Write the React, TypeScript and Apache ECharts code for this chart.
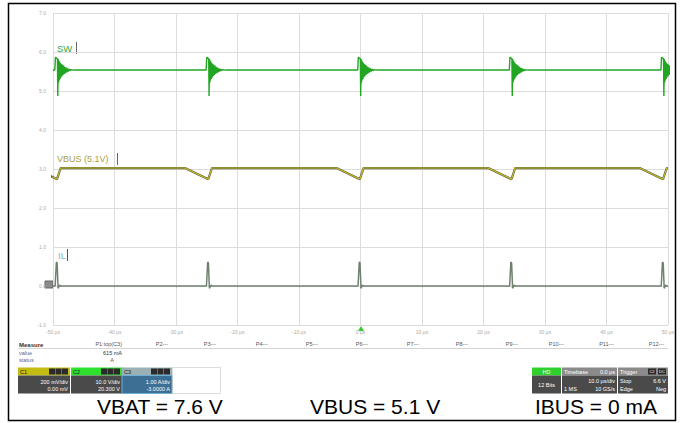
import React, { useEffect, useRef } from "react";
import * as echarts from "echarts";

// Time base: 10 µs/div, 10 divisions centred on the trigger
const timeMin = -50;
const timeMax = 50;
const timeStep = 10;

// Switching bursts (µs) seen on the SW node
const burstTimes = [-49.25, -24.65, 0, 24.65, 49.3];

// C2 – SW node (V), 10 V/div, offset 20.3 V
const swIdle = 5.1;
const swBurst: [number, number][] = [
  [-0.45, 5.1], [-0.35, 8.4], [-0.2, 8.1], [-0.03, 8.0], [0.03, -1.6],
  [0.09, 7.9], [0.15, 1.8], [0.21, 7.5], [0.27, 2.4], [0.33, 7.2],
  [0.4, 2.8], [0.47, 6.9], [0.54, 3.2], [0.62, 6.6], [0.7, 3.5],
  [0.79, 6.4], [0.88, 3.8], [0.97, 6.2], [1.07, 4.1], [1.17, 5.9],
  [1.27, 4.3], [1.38, 5.7], [1.49, 4.5], [1.61, 5.5], [1.73, 4.7],
  [1.87, 5.35], [2.02, 4.9], [2.2, 5.2], [2.45, 5.05], [2.8, 5.1],
];

// C1 – VBUS ripple (mV, AC coupled), 200 mV/div
const vbusIdle = 5;
const vbusBurst: [number, number][] = [
  [-3.9, 5], [-0.1, -52], [0.5, 5],
];

// C3 – inductor current (A), 1 A/div, offset -3 A
const ilIdle = 0;
const ilBurst: [number, number][] = [
  [-0.4, 0], [-0.2, 0.615], [-0.08, 0.59], [0.08, -0.06], [0.3, 0.02], [0.5, 0],
];

// Channel vertical windows (8 divisions)
const swRange: [number, number] = [-60.3, 19.7];
const vbusRange: [number, number] = [-800, 800];
const ilRange: [number, number] = [-1, 7];

const measureHeads = ["P1:top(C3)", "P2---", "P3---", "P4---", "P5---", "P6---", "P7---", "P8---", "P9---", "P10---", "P11---", "P12---"];
const measureValue = "615 mA";
const captions = ["VBAT = 7.6 V", "VBUS = 5.1 V", "IBUS = 0 mA"];

const FONT = "'Liberation Sans', Arial, sans-serif";

function trace(shape: [number, number][], idle: number, times: number[]) {
  const pts: [number, number][] = [];
  for (const t of times) for (const [dt, v] of shape) pts.push([+(t + dt).toFixed(3), v]);
  if (pts[0][0] > timeMin) pts.unshift([timeMin, idle]);
  if (pts[pts.length - 1][0] < timeMax) pts.push([timeMax, idle]);
  return pts;
}

function txt(x: number, y: number, text: string, size: number, fill: string, align = "left", weight = "normal") {
  return {
    type: "text", x, y, silent: true,
    style: { text, fill, font: `${weight} ${size}px ${FONT}`, textAlign: align, textVerticalAlign: "middle" },
  };
}

function box(x: number, y: number, w: number, h: number, fill: string, stroke?: string, extra: any = {}) {
  return {
    type: "rect", silent: true,
    shape: { x, y, width: w, height: h },
    style: { fill, stroke: stroke || null, lineWidth: stroke ? 1 : 0, ...extra },
  };
}

function line(x1: number, y1: number, x2: number, y2: number, stroke: string, w = 1) {
  return { type: "line", silent: true, shape: { x1, y1, x2, y2 }, style: { stroke, lineWidth: w } };
}

const BODY_TOP = 375.5;
const BODY_H = 18;

function channelBox(x: number, w: number, name: string, head: string, body: string, row1: string, row2: string, border?: string) {
  const els: any[] = [
    box(x, 367.5, w, 8, head),
    box(x, BODY_TOP, w, BODY_H, body, border),
    txt(x + 2, 371.5, name, 5.5, "#222"),
  ];
  for (let i = 0; i < 3; i++) els.push(box(x + w - 21 + i * 6.5, 368.5, 6, 6, "#2a2a2a"));
  els.push(txt(x + w - 2, 381.5, row1, 5.5, "#fff", "right"));
  els.push(txt(x + w - 2, 389, row2, 5.5, "#fff", "right"));
  return els;
}

export default function App() {
  const ref = useRef<HTMLDivElement>(null);

  useEffect(() => {
    if (!ref.current) return;
    const chart = echarts.init(ref.current, undefined, { renderer: "svg" });

    const swData = trace(swBurst, swIdle, burstTimes);
    const vbusData = trace(vbusBurst, vbusIdle, burstTimes);
    const ilData = trace(ilBurst, ilIdle, burstTimes);

    const measureX = [122, 168, 216, 268, 318, 368, 419, 468, 518, 564, 614, 664];

    const graphics: any[] = [
      // outer frame
      box(8.5, 3.5, 667, 417, "none", "#000", { lineWidth: 1.5 }),
      // trace labels
      txt(57, 48, "SW", 9.5, "#3aa83a"),
      line(76.5, 42, 76.5, 54, "#666", 1),
      txt(57, 159, "VBUS (5.1V)", 9, "#a8a040"),
      line(117.5, 153, 117.5, 165, "#666", 1),
      txt(58, 255, "IL", 9.5, "#8ab8cc"),
      line(67.5, 249, 67.5, 261, "#555", 1),
      // channel 3 ground marker
      box(45, 281, 8, 7, "#8a8a8a", "#666"),
      // trigger position marker
      { type: "polygon", silent: true, shape: { points: [[358, 331], [364, 331], [361, 326]] }, style: { fill: "#33cc33" } },
      // measure table
      txt(19, 345, "Measure", 6, "#333", "left", "bold"),
      line(18, 348.5, 668, 348.5, "#d4d4d4", 1),
      txt(19, 353, "value", 5.5, "#556699"),
      txt(19, 360, "status", 5.5, "#556699"),
      txt(122, 353, measureValue, 5.5, "#333", "right"),
      txt(112, 360, "A", 5.5, "#555", "center"),
      ...measureHeads.map((h, i) => txt(measureX[i], 344, h, 5.5, "#555", "right")),
      // channel descriptors
      ...channelBox(18, 52, "C1", "#c4bc10", "#4a4a4a", "200 mV/div", "0.00 mV"),
      ...channelBox(71, 51, "C2", "#2ee02e", "#4a4a4a", "10.0 V/div", "20.300 V"),
      ...channelBox(122, 50, "C3", "#9ab0b4", "#3d6f94", "1.00 A/div", "-3.0000 A", "#6ab0d8"),
      box(172.5, 367.5, 48, 26, "none", "#bbb", { lineDash: [1, 1] }),
      // acquisition
      box(532, 367.5, 29, 8, "#2ed02e"),
      txt(546.5, 371.5, "HD", 5.5, "#fff", "center"),
      box(532, BODY_TOP, 29, BODY_H, "#4a4a4a"),
      txt(546.5, 384.5, "12 Bits", 5.5, "#fff", "center"),
      // timebase
      box(562, 367.5, 55, 8, "#8a8a8a"),
      txt(564, 371.5, "Timebase", 5.5, "#fff"),
      txt(615, 371.5, "0.0 µs", 5.5, "#fff", "right"),
      box(562, BODY_TOP, 55, BODY_H, "#4a4a4a"),
      txt(615, 381, "10.0 µs/div", 5.5, "#fff", "right"),
      txt(564, 388.5, "1 MS", 5.5, "#fff"),
      txt(615, 388.5, "10 GS/s", 5.5, "#fff", "right"),
      // trigger
      box(618, 367.5, 50, 8, "#8a8a8a"),
      txt(620, 371.5, "Trigger", 5.5, "#fff"),
      box(648, 368.5, 8, 6, "#2a2a2a"),
      txt(652, 371.5, "C2", 4, "#fff", "center"),
      box(658, 368.5, 8, 6, "#2a2a2a"),
      txt(662, 371.5, "DC", 4, "#fff", "center"),
      box(618, BODY_TOP, 50, BODY_H, "#4a4a4a"),
      txt(620, 381, "Stop", 5.5, "#fff"),
      txt(666, 381, "6.6 V", 5.5, "#fff", "right"),
      txt(620, 388.5, "Edge", 5.5, "#fff"),
      txt(666, 388.5, "Neg", 5.5, "#fff", "right"),
      // operating conditions
      { type: "text", x: 97, y: 417, silent: true, style: { text: captions[0], fill: "#000", font: `21px ${FONT}`, textVerticalAlign: "bottom" } },
      { type: "text", x: 310, y: 417, silent: true, style: { text: captions[1], fill: "#000", font: `21px ${FONT}`, textVerticalAlign: "bottom" } },
      { type: "text", x: 535, y: 417, silent: true, style: { text: captions[2], fill: "#000", font: `21px ${FONT}`, textVerticalAlign: "bottom" } },
    ];

    const hidden = {
      axisLine: { show: false }, axisTick: { show: false }, axisLabel: { show: false }, splitLine: { show: false },
    };

    chart.setOption({
      animation: false,
      backgroundColor: "#fff",
      grid: { left: 53, top: 13, width: 615, height: 312, show: false },
      xAxis: {
        type: "value", min: timeMin, max: timeMax, interval: timeStep,
        axisLine: { show: false },
        axisTick: { show: true, length: 2, lineStyle: { color: "#c8c8c8" } },
        axisLabel: { fontSize: 5, color: "#aaa", margin: 4, fontFamily: FONT, formatter: (v: number) => `${v} µs` },
        splitLine: { show: true, lineStyle: { color: "#dcdcdc", width: 1 } },
      },
      yAxis: [
        {
          type: "value", min: ilRange[0], max: ilRange[1], interval: 1,
          axisLine: { show: false }, axisTick: { show: false },
          axisLabel: { fontSize: 5, color: "#aaa", margin: 7, fontFamily: FONT, formatter: (v: number) => v.toFixed(1) },
          splitLine: { show: true, lineStyle: { color: "#dcdcdc", width: 1 } },
        },
        { type: "value", min: swRange[0], max: swRange[1], ...hidden },
        { type: "value", min: vbusRange[0], max: vbusRange[1], ...hidden },
      ],
      series: [
        {
          name: "IL", type: "line", yAxisIndex: 0, data: ilData, showSymbol: false, clip: true,
          lineStyle: { color: "#6f806f", width: 1.5 },
        },
        {
          name: "VBUS shadow", type: "line", yAxisIndex: 2, data: vbusData, showSymbol: false, clip: true,
          lineStyle: { color: "#5c5c44", width: 2.2 },
        },
        {
          name: "VBUS", type: "line", yAxisIndex: 2, data: vbusData, showSymbol: false, clip: true,
          lineStyle: { color: "#c8c020", width: 1.1 },
        },
        {
          name: "SW", type: "line", yAxisIndex: 1, data: swData, showSymbol: false, clip: true,
          lineStyle: { color: "#22a522", width: 1.4 },
        },
      ],
      graphic: graphics,
    });

    return () => chart.dispose();
  }, []);

  return (
    <div
      ref={ref}
      style={{ position: "fixed", left: 0, top: 0, width: 683, height: 423, background: "#fff" }}
    />
  );
}
